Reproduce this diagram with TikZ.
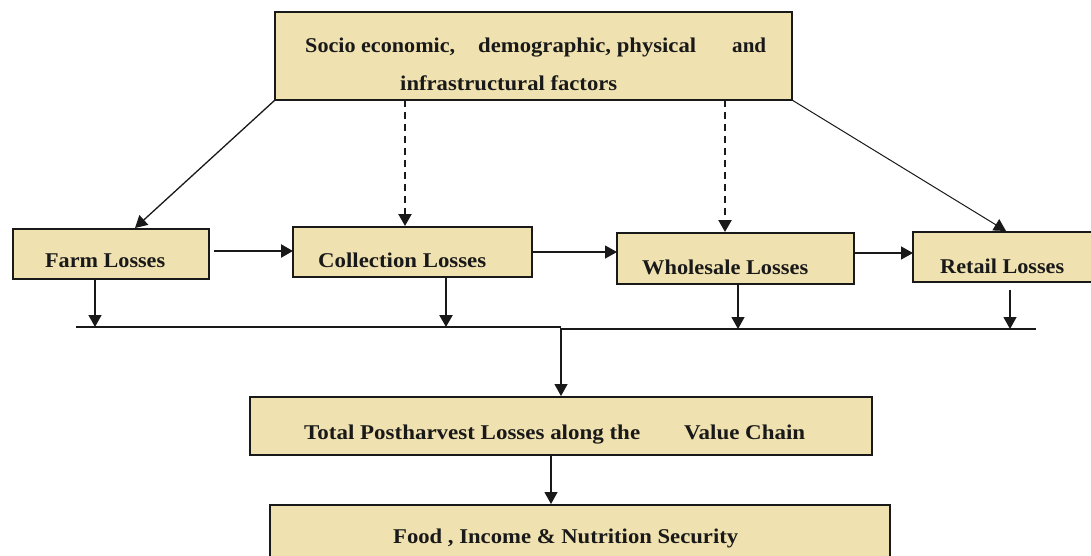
\documentclass[tikz,border=0pt]{standalone}
\usepackage{fontspec}
\setmainfont{Liberation Serif}
\usetikzlibrary{arrows.meta}
\definecolor{boxfill}{RGB}{240,226,176}
\definecolor{ink}{RGB}{25,25,25}
\newcommand{\fitto}[2]{\resizebox{#1pt}{\height}{#2}}
\tikzset{
  box/.style={draw=ink, fill=boxfill, line width=1.2pt},
  lbl/.style={anchor=base west, inner sep=0pt, font=\fontsize{21}{24}\selectfont\bfseries, text=ink},
  tip/.style={-{Triangle[length=12pt,width=13pt]}},
  arr/.style={draw=ink, line width=1.3pt, tip},
  thickarr/.style={draw=ink, line width=2.4pt, tip},
  dasharr/.style={draw=ink, line width=2.2pt, dash pattern=on 7pt off 5pt, tip},
  bus/.style={draw=ink, line width=1.3pt}
}
\begin{document}
\begin{tikzpicture}[x=1pt,y=-1pt]
\useasboundingbox (0,0) rectangle (1091,555);
\clip (0,0) rectangle (1091,555);
\fill[white] (0,0) rectangle (1091,555);
% boxes
\draw[box] (275,12) rectangle (792,100);
\draw[box] (13,229) rectangle (209,279);
\draw[box] (293,227) rectangle (532,277);
\draw[box] (617,233) rectangle (854,284);
\draw[box] (913,232) rectangle (1095,282);
\draw[box] (250,397) rectangle (872,455);
\draw[box] (270,505) rectangle (890,570);
% texts
\node[lbl] (t1) at (305,52) {\fitto{150}{Socio economic,}};
\node[lbl] (t2) at (478,52) {\fitto{218}{demographic, physical}};
\node[lbl] (t3) at (732,52) {\fitto{34}{and}};
\node[lbl] (t4) at (400,90) {\fitto{217}{infrastructural factors}};
\node[lbl] (farm) at (45,267) {\fitto{120}{Farm Losses}};
\node[lbl] (coll) at (318,267) {\fitto{168}{Collection Losses}};
\node[lbl] (whole) at (642,274) {\fitto{166}{Wholesale Losses}};
\node[lbl] (retail) at (940,273) {\fitto{124}{Retail Losses}};
\node[lbl] (tot1) at (304,439) {\fitto{336}{Total Postharvest Losses along the}};
\node[lbl] (tot2) at (684,439) {\fitto{121}{Value Chain}};
\node[lbl] (food) at (393,543) {\fitto{345}{Food , Income \& Nutrition Security}};
% named connector points
\coordinate (topBL) at (275,100);
\coordinate (farmTop) at (135,228);
\coordinate (collTop) at (405,226);
\coordinate (wholeTop) at (725,232);
\coordinate (retailTop) at (1006,231);
\coordinate (topD1) at (405,100);
\coordinate (topD2) at (725,100);
\coordinate (topR) at (792,100);
\coordinate (farmR) at (214,251);
\coordinate (collL) at (293,251);
\coordinate (collR) at (532,252);
\coordinate (wholeL) at (617,252);
\coordinate (wholeR) at (854,253);
\coordinate (retailL) at (913,253);
\coordinate (busL) at (76,327);
\coordinate (busML) at (561,327);
\coordinate (busMR) at (561,329);
\coordinate (busR) at (1036,329);
\coordinate (farmB) at (95,279);
\coordinate (farmBus) at (95,327);
\coordinate (collB) at (446,277);
\coordinate (collBus) at (446,327);
\coordinate (wholeB) at (738,284);
\coordinate (wholeBus) at (738,329);
\coordinate (retailB) at (1010,290);
\coordinate (retailBus) at (1010,329);
\coordinate (busMid) at (561,328);
\coordinate (totTop) at (561,396);
\coordinate (totB) at (551,455);
\coordinate (foodTop) at (551,504);
% connectors from top
\draw[arr] (topBL) -- (farmTop);
\draw[dasharr] (topD1) -- (collTop);
\draw[dasharr] (topD2) -- (wholeTop);
\draw[arr, line width=1pt] (topR) -- (retailTop);
% horizontal
\draw[thickarr] (farmR) -- (collL);
\draw[arr] (collR) -- (wholeL);
\draw[arr] (wholeR) -- (retailL);
% bus
\draw[bus] (busL) -- (busML);
\draw[bus] (busMR) -- (busR);
\draw[arr] (farmB) -- (farmBus);
\draw[thickarr] (collB) -- (collBus);
\draw[arr] (wholeB) -- (wholeBus);
\draw[arr] (retailB) -- (retailBus);
\draw[arr] (busMid) -- (totTop);
\draw[arr] (totB) -- (foodTop);
\end{tikzpicture}
\end{document}
